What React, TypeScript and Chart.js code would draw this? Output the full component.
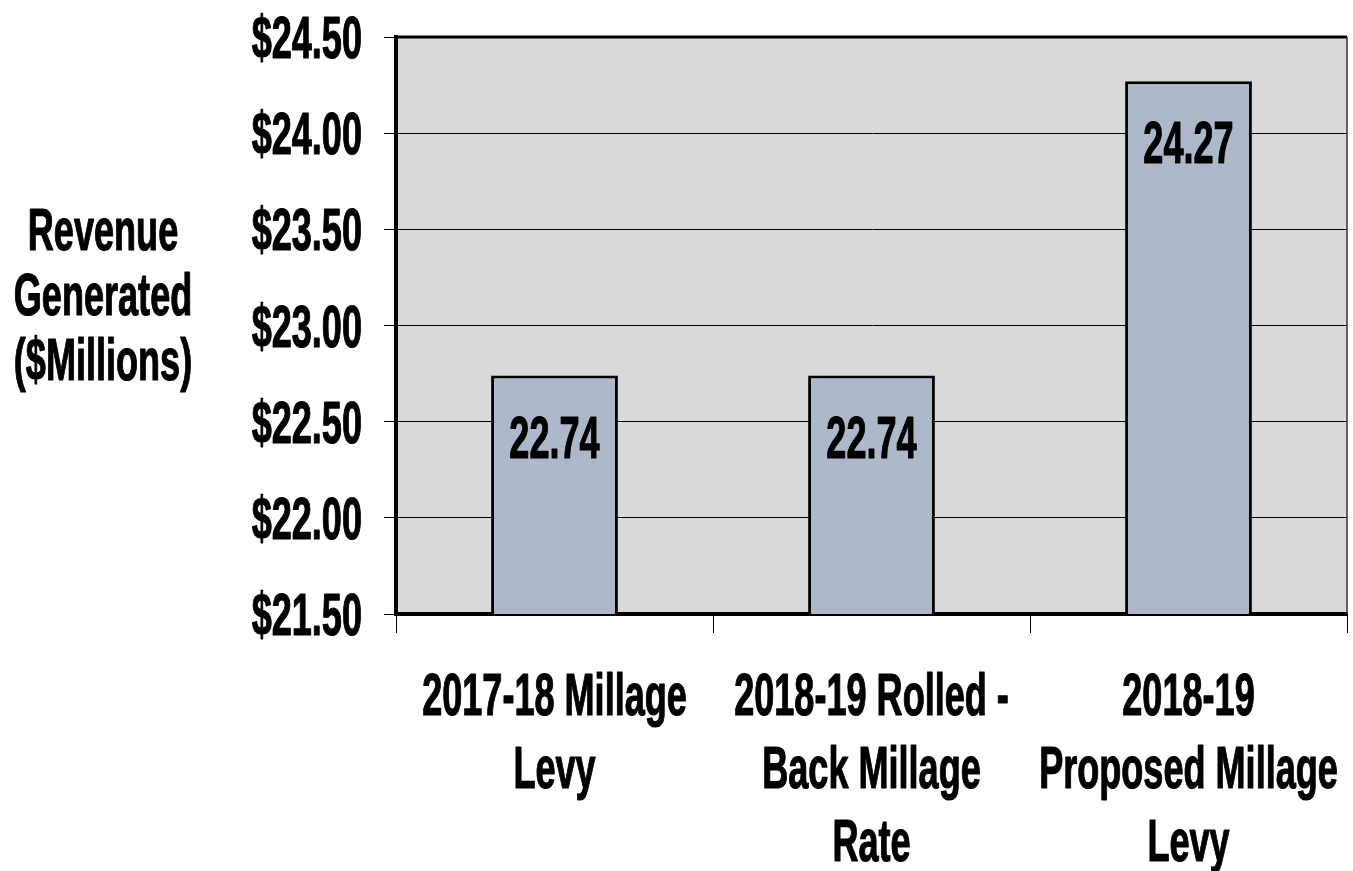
import React, { useEffect, useRef } from "react";
import { Chart, registerables } from "chart.js";

Chart.register(...registerables);

// ---- Data ----
const categories: string[][] = [
  ["2017-18 Millage", "Levy"],
  ["2018-19 Rolled -", "Back Millage", "Rate"],
  ["2018-19", "Proposed Millage", "Levy"],
];
const revenue: number[] = [22.74, 22.74, 24.27];
const yTitleLines: string[] = ["Revenue", "Generated", "($Millions)"];
const yMin = 21.5;
const yMax = 24.5;
const yStep = 0.5;

// ---- Style ----
const FONT_FAMILY = '"Liberation Sans", Arial, sans-serif';
const FONT_SIZE = 44;
const STRETCH_X = 0.82;
const STRETCH_Y = 1.36;

function drawStretched(
  ctx: CanvasRenderingContext2D,
  text: string,
  x: number,
  baseline: number,
  align: CanvasTextAlign
) {
  ctx.save();
  ctx.translate(x, baseline);
  ctx.scale(STRETCH_X, STRETCH_Y);
  ctx.font = `bold ${FONT_SIZE}px ${FONT_FAMILY}`;
  ctx.textAlign = align;
  ctx.textBaseline = "alphabetic";
  ctx.fillStyle = "#000";
  ctx.strokeStyle = "#000";
  ctx.lineWidth = 0.9;
  ctx.lineJoin = "round";
  ctx.fillText(text, 0, 0);
  ctx.strokeText(text, 0, 0);
  ctx.restore();
}

const textPlugin = {
  id: "stretchedText",
  beforeDraw(chart: any) {
    const { ctx, chartArea } = chart;
    ctx.save();
    ctx.fillStyle = "#d9d9d9";
    ctx.fillRect(chartArea.left, chartArea.top, chartArea.right - chartArea.left, chartArea.bottom - chartArea.top);
    ctx.restore();
  },
  afterDraw(chart: any) {
    const { ctx, chartArea } = chart;
    const xs = chart.scales.x;
    const ys = chart.scales.y;

    // plot frame: top and right
    ctx.save();
    ctx.strokeStyle = "#000";
    ctx.lineWidth = 3;
    ctx.beginPath();
    ctx.moveTo(chartArea.left - 1.5, chartArea.top);
    ctx.lineTo(chartArea.right, chartArea.top);
    ctx.stroke();
    ctx.lineWidth = 1.5;
    ctx.strokeStyle = "#333";
    ctx.beginPath();
    ctx.moveTo(chartArea.right, chartArea.top);
    ctx.lineTo(chartArea.right, chartArea.bottom);
    ctx.stroke();
    ctx.restore();

    // y tick labels
    ys.ticks.forEach((t: any) => {
      const y = ys.getPixelForValue(t.value);
      drawStretched(ctx, "$" + Number(t.value).toFixed(2), chartArea.left - 34, y + 21, "right");
    });

    // x category labels
    categories.forEach((lines, i) => {
      const x = xs.getPixelForValue(i);
      lines.forEach((ln, j) => {
        drawStretched(ctx, ln, x, chartArea.bottom + 101 + 73 * j, "center");
      });
    });

    // y title
    yTitleLines.forEach((ln, j) => {
      drawStretched(ctx, ln, 103, 250 + 65 * j, "center");
    });

    // data labels
    const meta = chart.getDatasetMeta(0);
    meta.data.forEach((bar: any, i: number) => {
      drawStretched(ctx, revenue[i].toFixed(2), bar.x, bar.y + 82, "center");
    });
  },
};

export default function App() {
  const canvasRef = useRef<HTMLCanvasElement | null>(null);

  useEffect(() => {
    if (!canvasRef.current) return;
    const chart = new Chart(canvasRef.current, {
      type: "bar",
      data: {
        labels: categories,
        datasets: [
          {
            data: revenue,
            backgroundColor: "#adb9ca",
            borderColor: "#000",
            borderWidth: 3,
            barPercentage: 0.4,
            categoryPercentage: 1,
          },
        ],
      },
      options: {
        responsive: false,
        animation: false,
        layout: { padding: { top: 37, right: 6, left: 0, bottom: 0 } },
        plugins: {
          legend: { display: false },
          tooltip: { enabled: false },
          title: { display: false },
        },
        scales: {
          x: {
            offset: true,
            ticks: { display: false },
            grid: {
              offset: true,
              drawOnChartArea: false,
              drawTicks: true,
              tickLength: 19,
              color: "#000",
              lineWidth: 1,
            },
            border: { display: true, color: "#000", width: 4 },
            afterFit: (s: any) => {
              s.height = 257;
            },
          },
          y: {
            min: yMin,
            max: yMax,
            ticks: { display: false, stepSize: yStep },
            grid: {
              drawOnChartArea: true,
              drawTicks: true,
              tickLength: 12,
              color: "#000",
              lineWidth: 1,
            },
            border: { display: true, color: "#000", width: 4 },
            afterFit: (s: any) => {
              s.width = 396;
            },
          },
        },
      },
      plugins: [textPlugin],
    });
    return () => chart.destroy();
  }, []);

  return (
    <div style={{ position: "fixed", left: 0, top: 0, width: 1353, height: 871, background: "#fff" }}>
      <canvas ref={canvasRef} width={1353} height={871} style={{ display: "block" }} />
    </div>
  );
}
